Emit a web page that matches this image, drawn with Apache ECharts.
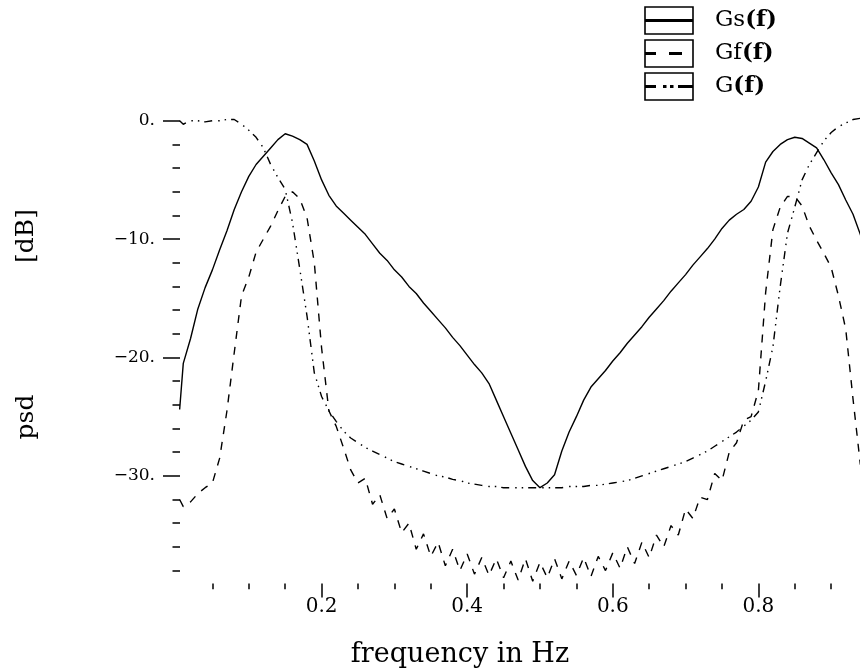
<!DOCTYPE html>
<html><head><meta charset="utf-8">
<script src="https://cdn.jsdelivr.net/npm/echarts@6/dist/echarts.min.js"></script>
<style>html,body{margin:0;padding:0;background:#fff}#c{width:860px;height:669px}</style>
</head><body><div id="c"></div>
<script>
const freq = [0.005,0.01,0.02,0.03,0.04,0.05,0.06,0.07,0.08,0.09,
0.10,0.11,0.12,0.13,0.14,0.15,0.16,0.17,0.18,0.19,
0.20,0.21,0.22,0.23,0.24,0.25,0.26,0.27,0.28,0.29,
0.30,0.31,0.32,0.33,0.34,0.35,0.36,0.37,0.38,0.39,
0.40,0.41,0.42,0.43,0.44,0.45,0.46,0.47,0.48,0.49,
0.50,0.51,0.52,0.53,0.54,0.55,0.56,0.57,0.58,0.59,
0.60,0.61,0.62,0.63,0.64,0.65,0.66,0.67,0.68,0.69,
0.70,0.71,0.72,0.73,0.74,0.75,0.76,0.77,0.78,0.79,
0.80,0.81,0.82,0.83,0.84,0.85,0.86,0.87,0.88,0.89,
0.90,0.91,0.92,0.93,0.94,0.95,0.96,0.97,0.98,0.99,1.00];

const gsValues = [-24.4,-20.5,-18.4,-15.9,-14.1,-12.6,-10.9,-9.3,-7.5,-6.0,
-4.7,-3.7,-3.0,-2.3,-1.6,-1.1,-1.3,-1.6,-2.0,-3.4,
-5.0,-6.3,-7.2,-7.8,-8.4,-9.0,-9.6,-10.4,-11.2,-11.8,
-12.6,-13.2,-14.0,-14.6,-15.4,-16.1,-16.8,-17.5,-18.3,-19.0,
-19.8,-20.6,-21.3,-22.2,-23.6,-25.0,-26.4,-27.8,-29.2,-30.4,
-31.0,-30.6,-29.9,-27.9,-26.3,-25.0,-23.6,-22.5,-21.8,-21.1,
-20.3,-19.6,-18.8,-18.1,-17.4,-16.6,-15.9,-15.2,-14.4,-13.7,
-13.0,-12.2,-11.5,-10.8,-10.0,-9.1,-8.4,-7.9,-7.5,-6.8,
-5.6,-3.5,-2.6,-2.0,-1.6,-1.4,-1.5,-1.9,-2.3,-3.3,
-4.4,-5.4,-6.7,-7.9,-9.6,-11.5,-13.6,-15.5,-18.0,-20.3,-24.0];

const gfValues = [-32.0,-32.6,-32.2,-31.5,-31.0,-30.6,-28.5,-24.5,-19.6,-14.8,
-13.2,-11.1,-10.0,-8.9,-7.6,-6.4,-6.0,-6.6,-8.2,-12.0,
-19.2,-24.5,-25.8,-27.6,-29.5,-30.6,-30.2,-32.4,-31.6,-33.6,
-32.8,-34.8,-34.0,-36.2,-34.9,-36.8,-35.6,-37.6,-36.2,-38.0,
-36.6,-38.3,-36.9,-38.4,-37.0,-38.6,-37.2,-38.8,-37.0,-38.9,
-37.3,-38.6,-37.0,-38.7,-37.2,-38.4,-36.9,-38.5,-36.8,-38.0,
-36.5,-37.8,-36.0,-37.4,-35.6,-36.9,-35.0,-36.0,-34.2,-35.0,
-32.8,-33.6,-31.8,-32.0,-29.8,-30.4,-28.0,-27.2,-25.3,-25.0,
-22.8,-14.5,-9.2,-7.3,-6.4,-6.4,-7.2,-8.9,-10.1,-11.2,
-12.4,-14.8,-17.6,-23.5,-29.0,-30.5,-31.0,-31.5,-32.2,-32.6,-32.0];

const gValues = [0.0,-0.3,0.0,0.0,-0.1,0.0,0.0,0.1,0.1,-0.3,
-0.8,-1.4,-2.3,-3.7,-4.8,-5.8,-8.6,-12.5,-16.5,-21.3,
-23.3,-24.5,-25.4,-26.2,-26.8,-27.2,-27.6,-27.9,-28.2,-28.5,
-28.8,-29.0,-29.2,-29.4,-29.6,-29.8,-30.0,-30.1,-30.3,-30.4,
-30.6,-30.7,-30.8,-30.9,-30.9,-31.0,-31.0,-31.0,-31.0,-31.0,
-31.0,-31.0,-31.0,-31.0,-30.9,-30.9,-30.9,-30.8,-30.8,-30.7,
-30.6,-30.5,-30.4,-30.2,-30.0,-29.8,-29.6,-29.4,-29.2,-29.0,
-28.8,-28.5,-28.2,-27.9,-27.5,-27.1,-26.7,-26.3,-25.8,-25.3,
-24.6,-22.0,-19.1,-14.0,-9.5,-7.3,-5.0,-3.7,-2.7,-1.7,
-1.0,-0.5,-0.2,0.1,0.2,0.0,0.0,-0.1,0.0,-0.3,0.0];

const seriesNames = ['Gs(f)', 'Gf(f)', 'G(f)'];
const xMajorTicks = [0.2, 0.4, 0.6, 0.8];
const xMinorTicks = [0.05,0.1,0.15,0.25,0.3,0.35,0.45,0.5,0.55,0.65,0.7,0.75,0.85,0.9];
const yMajorTicks = [0, -10, -20, -30];
const yMinorTicks = [-2,-4,-6,-8,-12,-14,-16,-18,-22,-24,-26,-28,-32,-34,-36,-38];
const xTitle = 'frequency in Hz';
const yTitleTop = '[dB]';
const yTitleBottom = 'psd';

const X_MAX = 0.9396;  // visible right edge of the original (plot is cut off there)
const FONT = '"DejaVu Serif", "Liberation Serif", serif';
const chart = echarts.init(document.getElementById('c'), null, {renderer: 'canvas'});

function pairs(vals) { return freq.map((f, i) => [f, vals[i]]); }
function yFmt(v) { return v === 0 ? '0.' : '\u2212' + Math.abs(v) + '.'; }

const tickStyle = {color: '#000', width: 1.5};

const legendGraphics = [];
const boxY = [7, 40, 73];
const boxX = 645, boxW = 48, boxH = 27;
boxY.forEach((by, i) => {
  legendGraphics.push({type: 'rect', shape: {x: boxX, y: by, width: boxW, height: boxH},
    style: {fill: '#fff', stroke: '#000', lineWidth: 1.6}});
  const cy = by + boxH / 2;
  const segs = i === 0 ? [[645, 693]] : i === 1 ? [[645, 656], [669, 682]] : [[645, 656], [663, 666.5], [670, 673.5], [678, 693]];
  segs.forEach(s => legendGraphics.push({type: 'line', shape: {x1: s[0], y1: cy, x2: s[1], y2: cy},
    style: {stroke: '#000', lineWidth: 3}}));
  const nm = seriesNames[i];
  const base = nm.slice(0, nm.indexOf('('));
  legendGraphics.push({type: 'text', x: 715, y: cy,
    style: {text: '{n|' + base + '}{b|(f)}', textVerticalAlign: 'middle', textAlign: 'left',
      rich: {n: {fontFamily: FONT, fontSize: 23, fill: '#000'}, b: {fontFamily: FONT, fontSize: 23, fontWeight: 'bold', fill: '#000'}}}});
});

const option = {
  animation: false,
  backgroundColor: '#fff',
  grid: {left: 176, right: 0, top: 120.7, bottom: 85.4, containLabel: false},
  xAxis: [
    {type: 'value', min: 0, max: X_MAX, position: 'bottom',
      axisLine: {show: false, onZero: false},
      axisTick: {show: true, customValues: xMajorTicks, length: 14, lineStyle: tickStyle},
      axisLabel: {show: true, customValues: xMajorTicks, formatter: v => v.toFixed(1), margin: 13,
        fontFamily: FONT, fontSize: 20, color: '#000'},
      splitLine: {show: false}},
    {type: 'value', min: 0, max: X_MAX, position: 'bottom',
      axisLine: {show: false, onZero: false},
      axisTick: {show: true, customValues: xMinorTicks, length: 5.6, lineStyle: tickStyle},
      axisLabel: {show: false}, splitLine: {show: false}}
  ],
  yAxis: [
    {type: 'value', min: -39.1, max: 0, position: 'left', offset: -4,
      axisLine: {show: false, onZero: false},
      axisTick: {show: true, customValues: yMajorTicks, length: 17, lineStyle: tickStyle},
      axisLabel: {show: true, customValues: yMajorTicks, formatter: yFmt, margin: 25,
        fontFamily: FONT, fontSize: 17, color: '#000'},
      splitLine: {show: false}},
    {type: 'value', min: -39.1, max: 0, position: 'left', offset: -4,
      axisLine: {show: false, onZero: false},
      axisTick: {show: true, customValues: yMinorTicks, length: 7.5, lineStyle: tickStyle},
      axisLabel: {show: false}, splitLine: {show: false}}
  ],
  series: [
    {name: seriesNames[0], type: 'line', data: pairs(gsValues), showSymbol: false, clip: false, silent: true,
      lineStyle: {color: '#000', width: 1.4, type: 'solid'}},
    {name: seriesNames[1], type: 'line', data: pairs(gfValues), showSymbol: false, clip: false, silent: true,
      lineStyle: {color: '#000', width: 1.4, type: [8, 8]}},
    {name: seriesNames[2], type: 'line', data: pairs(gValues), showSymbol: false, clip: false, silent: true,
      lineStyle: {color: '#000', width: 1.4, type: [8, 6, 1.5, 5, 1.5, 5]}}
  ],
  graphic: [
    {type: 'text', x: 460, y: 655, style: {text: xTitle, font: '27px ' + FONT, fill: '#000', textAlign: 'center', textVerticalAlign: 'middle'}},
    {type: 'text', x: 26, y: 236, rotation: Math.PI / 2, style: {text: yTitleTop, font: '25px ' + FONT, fill: '#000', textAlign: 'center', textVerticalAlign: 'middle'}},
    {type: 'text', x: 26, y: 417, rotation: Math.PI / 2, style: {text: yTitleBottom, font: '25px ' + FONT, fill: '#000', textAlign: 'center', textVerticalAlign: 'middle'}}
  ].concat(legendGraphics)
};
chart.setOption(option);
</script></body></html>
